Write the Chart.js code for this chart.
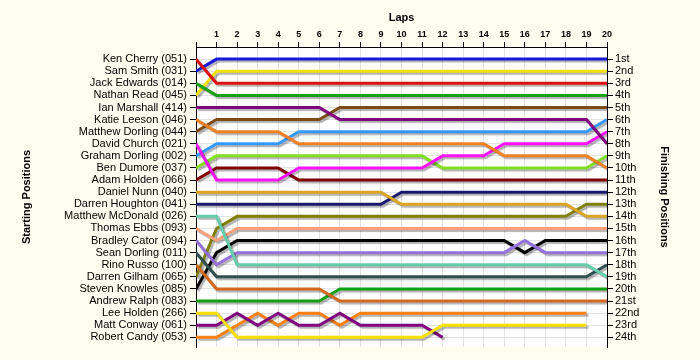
<!DOCTYPE html>
<html>
<head>
<meta charset="utf-8">
<script src="https://cdn.jsdelivr.net/npm/chart.js@4/dist/chart.umd.min.js"></script>
<style>
    html, body { margin: 0; padding: 0; background: #fefdf0; }
    canvas { display: block; }
</style>
</head>
<body>
<canvas id="lapChart" width="700" height="360"></canvas>
<script>
// Laps along the top
const laps = [0, 1, 2, 3, 4, 5, 6, 7, 8, 9, 10, 11, 12, 13, 14, 15, 16, 17, 18, 19, 20];
const gridPositions = [1, 2, 3, 4, 5, 6, 7, 8, 9, 10, 11, 12, 13, 14, 15, 16, 17, 18, 19, 20, 21, 22, 23, 24];

// Starting grid (left) and finishing labels (right)
const startGrid = [
    'Ken Cherry (051)', 'Sam Smith (031)', 'Jack Edwards (014)', 'Nathan Read (045)',
    'Ian Marshall (414)', 'Katie Leeson (046)', 'Matthew Dorling (044)', 'David Church (021)',
    'Graham Dorling (002)', 'Ben Dumore (037)', 'Adam Holden (066)', 'Daniel Nunn (040)',
    'Darren Houghton (041)', 'Matthew McDonald (026)', 'Thomas Ebbs (093)', 'Bradley Cator (094)',
    'Sean Dorling (011)', 'Rino Russo (100)', 'Darren Gilham (065)', 'Steven Knowles (085)',
    'Andrew Ralph (083)', 'Lee Holden (266)', 'Matt Conway (061)', 'Robert Candy (053)'
];
const finishLabels = [
    '1st', '2nd', '3rd', '4th', '5th', '6th', '7th', '8th', '9th', '10th', '11th', '12th',
    '13th', '14th', '15th', '16th', '17th', '18th', '19th', '20th', '21st', '22nd', '23rd', '24th'
];

const lineColors = [
    '#e01010', '#1818d8', '#18a018', '#f2e000', '#800080', '#f08020', '#7c4a14', '#ff10ff',
    '#3399ff', '#80e020', '#800000', '#daa520', '#191970', '#66cdaa', '#ffa07a', '#9370db',
    '#2f4f4f', '#d2691e', '#808000', '#000000', '#10a010', '#f5e000', '#800080', '#ff8010'
];

// position of each driver at every lap (null = no longer running)
const lapPositions = [
    [1, 3, 3, 3, 3, 3, 3, 3, 3, 3, 3, 3, 3, 3, 3, 3, 3, 3, 3, 3, 3],
    [2, 1, 1, 1, 1, 1, 1, 1, 1, 1, 1, 1, 1, 1, 1, 1, 1, 1, 1, 1, 1],
    [3, 4, 4, 4, 4, 4, 4, 4, 4, 4, 4, 4, 4, 4, 4, 4, 4, 4, 4, 4, 4],
    [4, 2, 2, 2, 2, 2, 2, 2, 2, 2, 2, 2, 2, 2, 2, 2, 2, 2, 2, 2, 2],
    [5, 5, 5, 5, 5, 5, 5, 6, 6, 6, 6, 6, 6, 6, 6, 6, 6, 6, 6, 6, 8],
    [6, 7, 7, 7, 7, 8, 8, 8, 8, 8, 8, 8, 8, 8, 8, 9, 9, 9, 9, 9, 10],
    [7, 6, 6, 6, 6, 6, 6, 5, 5, 5, 5, 5, 5, 5, 5, 5, 5, 5, 5, 5, 5],
    [8, 11, 11, 11, 11, 10, 10, 10, 10, 10, 10, 10, 9, 9, 9, 8, 8, 8, 8, 8, 7],
    [9, 8, 8, 8, 8, 7, 7, 7, 7, 7, 7, 7, 7, 7, 7, 7, 7, 7, 7, 7, 6],
    [10, 9, 9, 9, 9, 9, 9, 9, 9, 9, 9, 9, 10, 10, 10, 10, 10, 10, 10, 10, 9],
    [11, 10, 10, 10, 10, 11, 11, 11, 11, 11, 11, 11, 11, 11, 11, 11, 11, 11, 11, 11, 11],
    [12, 12, 12, 12, 12, 12, 12, 12, 12, 12, 13, 13, 13, 13, 13, 13, 13, 13, 13, 14, 14],
    [13, 13, 13, 13, 13, 13, 13, 13, 13, 13, 12, 12, 12, 12, 12, 12, 12, 12, 12, 12, 12],
    [14, 14, 18, 18, 18, 18, 18, 18, 18, 18, 18, 18, 18, 18, 18, 18, 18, 18, 18, 18, 19],
    [15, 16, 15, 15, 15, 15, 15, 15, 15, 15, 15, 15, 15, 15, 15, 15, 15, 15, 15, 15, 15],
    [16, 18, 17, 17, 17, 17, 17, 17, 17, 17, 17, 17, 17, 17, 17, 17, 16, 17, 17, 17, 17],
    [17, 19, 19, 19, 19, 19, 19, 19, 19, 19, 19, 19, 19, 19, 19, 19, 19, 19, 19, 19, 18],
    [18, 20, 20, 20, 20, 20, 20, 21, 21, 21, 21, 21, 21, 21, 21, 21, 21, 21, 21, 21, 21],
    [19, 15, 14, 14, 14, 14, 14, 14, 14, 14, 14, 14, 14, 14, 14, 14, 14, 14, 14, 13, 13],
    [20, 17, 16, 16, 16, 16, 16, 16, 16, 16, 16, 16, 16, 16, 16, 16, 17, 16, 16, 16, 16],
    [21, 21, 21, 21, 21, 21, 21, 20, 20, 20, 20, 20, 20, 20, 20, 20, 20, 20, 20, 20, 20],
    [22, 22, 24, 24, 24, 24, 24, 24, 24, 24, 24, 24, 23, 23, 23, 23, 23, 23, 23, 23, null],
    [23, 23, 22, 23, 22, 23, 23, 22, 23, 23, 23, 23, 24, null, null, null, null, null, null, null, null],
    [24, 24, 23, 22, 23, 22, 22, 23, 22, 22, 22, 22, 22, 22, 22, 22, 22, 22, 22, 22, null]
];

const fontFamily = '"Liberation Sans", Arial, sans-serif';
Chart.defaults.font.family = fontFamily;
Chart.defaults.color = '#000';

// cream page, white plot area
const plotBackground = {
    id: 'plotBackground',
    beforeDraw(chart) {
        const { ctx, chartArea: a } = chart;
        ctx.save();
        ctx.fillStyle = '#fefdf0';
        ctx.fillRect(0, 0, chart.width, chart.height);
        ctx.fillStyle = '#ffffff';
        ctx.fillRect(a.left, a.top, a.right - a.left, a.bottom - a.top);
        ctx.restore();
    }
};

// grey drop shadow under every line
const lineShadow = {
    id: 'lineShadow',
    beforeDatasetDraw(chart) {
        const ctx = chart.ctx;
        ctx.save();
        ctx.shadowColor = 'rgba(0, 0, 0, 0.3)';
        ctx.shadowOffsetX = 2;
        ctx.shadowOffsetY = 2;
        ctx.shadowBlur = 1;
    },
    afterDatasetDraw(chart) {
        chart.ctx.restore();
    }
};

const datasets = lapPositions.map((row, i) => ({
    label: startGrid[i],
    data: row.map((pos, lap) => ({ x: laps[lap], y: pos })),
    borderColor: lineColors[i],
    borderWidth: 3,
    pointRadius: 0,
    tension: 0,
    fill: false
}));

const gridColor = '#e2e2e2';
const labelFont = { size: 11 };
const titleFont = { size: 11, weight: 'bold' };

new Chart(document.getElementById('lapChart').getContext('2d'), {
    type: 'line',
    data: { datasets },
    plugins: [plotBackground, lineShadow],
    options: {
        responsive: false,
        animation: false,
        layout: { padding: { bottom: 13 } },
        plugins: {
            legend: { display: false },
            tooltip: { enabled: false }
        },
        scales: {
            x: {
                type: 'linear',
                position: 'top',
                min: 0,
                max: 20,
                afterBuildTicks: (s) => { s.ticks = laps.map(v => ({ value: v })); },
                afterFit: (s) => { s.height = 47; },
                ticks: {
                    callback: (v) => (v === 0 ? '' : v),
                    font: { size: 9, weight: 'bold' },
                    padding: 2,
                    maxRotation: 0,
                    autoSkip: false
                },
                grid: { color: gridColor, tickColor: '#000', tickLength: 5 },
                border: { color: '#000' },
                title: { display: true, text: 'Laps', font: titleFont, padding: { top: 11, bottom: 0 } }
            },
            y: {
                type: 'linear',
                position: 'left',
                reverse: true,
                min: 0,
                max: 24.8,
                afterBuildTicks: (s) => { s.ticks = gridPositions.map(v => ({ value: v })); },
                afterFit: (s) => { s.width = 196; },
                ticks: {
                    callback: (v) => startGrid[v - 1],
                    font: labelFont,
                    padding: 3,
                    autoSkip: false
                },
                grid: { color: gridColor, tickColor: '#000', tickLength: 6 },
                border: { color: '#000' },
                title: { display: true, text: 'Starting Positions', font: titleFont, padding: { top: 20, bottom: 0 } }
            },
            y2: {
                type: 'linear',
                position: 'right',
                reverse: true,
                min: 0,
                max: 24.8,
                afterBuildTicks: (s) => { s.ticks = gridPositions.map(v => ({ value: v })); },
                afterFit: (s) => { s.width = 93; },
                ticks: {
                    callback: (v) => finishLabels[v - 1],
                    font: labelFont,
                    padding: 2,
                    autoSkip: false
                },
                grid: { drawOnChartArea: false, tickColor: '#000', tickLength: 6 },
                border: { color: '#000' },
                title: { display: true, text: 'Finishing Positions', font: titleFont, padding: { top: 29, bottom: 0 } }
            }
        }
    }
});
</script>
</body>
</html>
